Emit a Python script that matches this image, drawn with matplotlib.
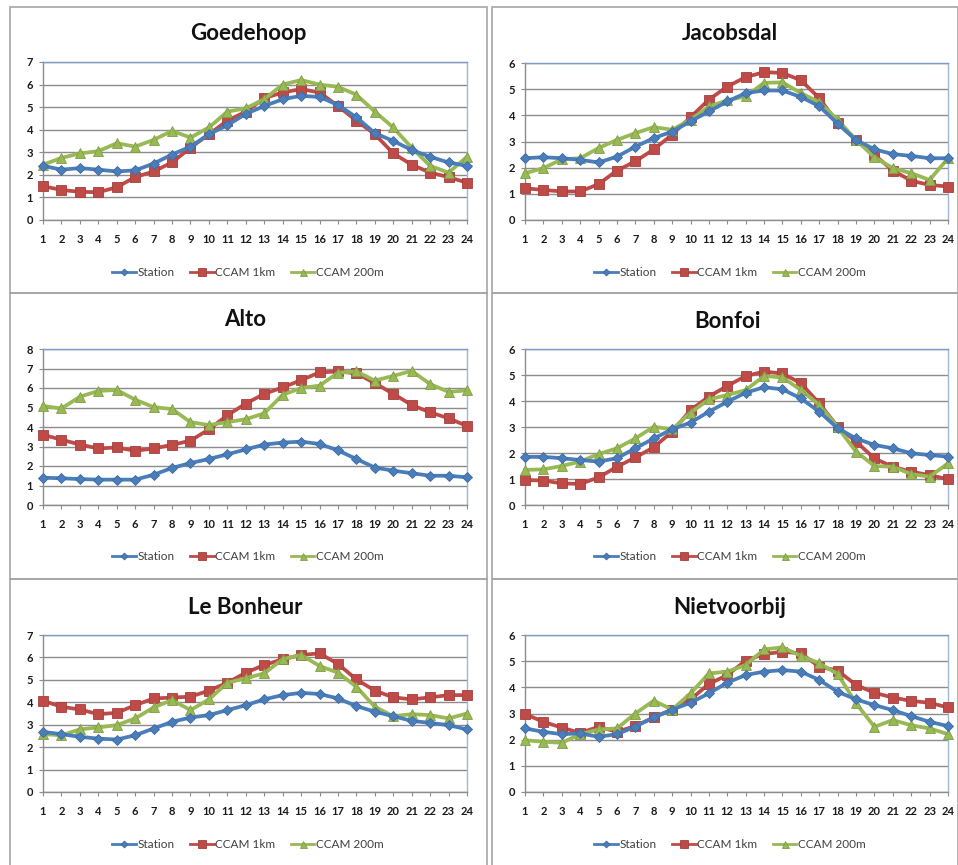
import matplotlib
matplotlib.use("Agg")
import matplotlib.pyplot as plt
from matplotlib.patches import Rectangle

plt.rcParams["font.family"] = ["Lato", "DejaVu Sans"]

hours = list(range(1, 25))
series_names = ["Station", "CCAM 1km", "CCAM 200m"]
station_titles = ["Goedehoop", "Jacobsdal", "Alto", "Bonfoi", "Le Bonheur", "Nietvoorbij"]
y_max = [7, 6, 8, 6, 7, 6]

goedehoop_station = [2.40, 2.23, 2.30, 2.23, 2.15, 2.20, 2.50, 2.90, 3.25, 3.80, 4.20, 4.70,
                     5.05, 5.35, 5.50, 5.45, 5.10, 4.55, 3.85, 3.50, 3.10, 2.80, 2.55, 2.40]
goedehoop_1km = [1.50, 1.33, 1.25, 1.23, 1.45, 1.90, 2.15, 2.55, 3.20, 3.80, 4.40, 4.80,
                 5.40, 5.65, 5.80, 5.65, 5.05, 4.40, 3.80, 2.95, 2.45, 2.10, 1.90, 1.65]
goedehoop_200m = [2.45, 2.75, 2.95, 3.05, 3.40, 3.25, 3.55, 3.95, 3.65, 4.10, 4.80, 4.95,
                  5.35, 6.00, 6.20, 6.00, 5.90, 5.55, 4.80, 4.10, 3.20, 2.40, 2.10, 2.80]

jacobsdal_station = [2.36, 2.40, 2.36, 2.30, 2.20, 2.42, 2.80, 3.13, 3.38, 3.77, 4.15, 4.53,
                     4.85, 4.95, 4.95, 4.70, 4.35, 3.68, 3.06, 2.70, 2.52, 2.45, 2.36, 2.36]
jacobsdal_1km = [1.21, 1.15, 1.09, 1.09, 1.37, 1.89, 2.24, 2.70, 3.26, 3.93, 4.60, 5.10,
                 5.46, 5.65, 5.62, 5.34, 4.66, 3.70, 3.06, 2.49, 1.89, 1.50, 1.34, 1.28]
jacobsdal_200m = [1.79, 1.98, 2.32, 2.36, 2.75, 3.06, 3.32, 3.55, 3.45, 3.83, 4.34, 4.57,
                  4.73, 5.24, 5.26, 4.85, 4.50, 3.83, 3.06, 2.40, 1.98, 1.79, 1.53, 2.36]

alto_station = [1.40, 1.37, 1.33, 1.30, 1.30, 1.30, 1.55, 1.90, 2.15, 2.36, 2.60, 2.85,
                3.10, 3.20, 3.25, 3.13, 2.80, 2.36, 1.92, 1.76, 1.63, 1.50, 1.50, 1.42]
alto_1km = [3.60, 3.35, 3.10, 2.90, 2.95, 2.78, 2.90, 3.08, 3.30, 3.88, 4.60, 5.20,
            5.70, 6.03, 6.40, 6.80, 6.85, 6.75, 6.25, 5.70, 5.13, 4.75, 4.45, 4.05]
alto_200m = [5.08, 4.95, 5.55, 5.85, 5.90, 5.40, 5.02, 4.92, 4.25, 4.10, 4.25, 4.40,
             4.70, 5.65, 6.00, 6.12, 6.78, 6.85, 6.38, 6.62, 6.88, 6.20, 5.80, 5.88]

bonfoi_station = [1.85, 1.85, 1.80, 1.73, 1.67, 1.80, 2.18, 2.56, 2.91, 3.17, 3.59, 3.97,
                  4.32, 4.53, 4.45, 4.10, 3.59, 2.95, 2.56, 2.31, 2.18, 1.99, 1.92, 1.86]
bonfoi_1km = [0.96, 0.94, 0.83, 0.81, 1.06, 1.47, 1.83, 2.22, 2.82, 3.65, 4.17, 4.58,
              4.96, 5.13, 5.06, 4.68, 3.91, 3.01, 2.44, 1.79, 1.47, 1.28, 1.15, 0.99]
bonfoi_200m = [1.35, 1.37, 1.50, 1.67, 1.96, 2.18, 2.56, 3.01, 2.91, 3.55, 4.06, 4.23,
               4.42, 4.96, 4.91, 4.42, 3.85, 2.99, 2.05, 1.50, 1.47, 1.19, 1.09, 1.60]

lebonheur_station = [2.68, 2.58, 2.46, 2.38, 2.34, 2.53, 2.83, 3.13, 3.32, 3.43, 3.65, 3.87,
                     4.13, 4.32, 4.42, 4.37, 4.17, 3.83, 3.58, 3.38, 3.17, 3.08, 2.98, 2.79]
lebonheur_1km = [4.07, 3.80, 3.68, 3.47, 3.53, 3.87, 4.17, 4.21, 4.25, 4.52, 4.87, 5.32,
                 5.66, 5.92, 6.11, 6.18, 5.71, 5.02, 4.52, 4.22, 4.13, 4.22, 4.32, 4.32]
lebonheur_200m = [2.58, 2.53, 2.79, 2.88, 2.98, 3.28, 3.77, 4.10, 3.65, 4.13, 4.87, 5.07,
                  5.29, 5.92, 6.11, 5.62, 5.32, 4.69, 3.80, 3.38, 3.47, 3.43, 3.28, 3.50]

nietvoorbij_station = [2.43, 2.30, 2.21, 2.24, 2.11, 2.21, 2.50, 2.85, 3.15, 3.41, 3.77, 4.18,
                       4.47, 4.60, 4.66, 4.60, 4.28, 3.83, 3.54, 3.32, 3.13, 2.90, 2.68, 2.52]
nietvoorbij_1km = [2.98, 2.68, 2.46, 2.26, 2.49, 2.30, 2.52, 2.85, 3.15, 3.54, 4.13, 4.47,
                   5.02, 5.27, 5.36, 5.30, 4.79, 4.64, 4.09, 3.79, 3.61, 3.48, 3.41, 3.23]
nietvoorbij_200m = [1.98, 1.92, 1.88, 2.21, 2.39, 2.43, 3.00, 3.49, 3.15, 3.77, 4.53, 4.60,
                    4.85, 5.45, 5.53, 5.20, 4.92, 4.51, 3.39, 2.49, 2.75, 2.55, 2.43, 2.21]

panel_series = [
    (goedehoop_station, goedehoop_1km, goedehoop_200m),
    (jacobsdal_station, jacobsdal_1km, jacobsdal_200m),
    (alto_station, alto_1km, alto_200m),
    (bonfoi_station, bonfoi_1km, bonfoi_200m),
    (lebonheur_station, lebonheur_1km, lebonheur_200m),
    (nietvoorbij_station, nietvoorbij_1km, nietvoorbij_200m),
]

W, H = 958, 865
fig = plt.figure(figsize=(W / 100, H / 100), dpi=100)
fig.patch.set_facecolor("white")


def fx(px):
    return px / W


def fy(py):
    return 1 - py / H


# panel frames (pixel boxes: left, top, right, bottom)
frames = [(10, 7, 487, 293), (492, 7, 958, 293),
          (10, 293, 487, 579), (492, 293, 958, 579),
          (10, 579, 487, 866), (492, 579, 958, 866)]
for (l, t, r, b) in frames:
    fig.patches.append(Rectangle((fx(l), fy(b)), fx(r - l), (b - t) / H,
                                 transform=fig.transFigure, fill=False,
                                 edgecolor="#a6a6a6", linewidth=1.2))

# plot areas (pixel boxes)
plot_boxes = [(43, 62, 467, 220), (525, 63, 948, 220),
              (43, 349, 467, 505), (525, 349, 948, 505),
              (43, 635, 467, 792), (525, 635, 948, 792)]
title_pos = [(248, 33), (730, 33), (245, 320), (728, 321), (245, 607), (730, 607)]
legend_y = [273, 273, 557, 557, 845, 845]
legend_x = [248, 730, 248, 730, 248, 730]

colors = ["#4a7ebb", "#be4b48", "#98b954"]
edge_colors = ["#3d6aa3", "#a53f3c", "#7f9e45"]
markers = ["D", "s", "^"]
msizes = [5.0, 7.8, 7.2]
grid_col = "#8c8c8c"

for i, (l, t, r, b) in enumerate(plot_boxes):
    ax = fig.add_axes([fx(l), fy(b), fx(r - l), (b - t) / H])
    for k, vals in enumerate(panel_series[i]):
        ax.plot(hours, vals, color=colors[k], linewidth=2.7, marker=markers[k],
                markersize=msizes[k], markerfacecolor=colors[k],
                markeredgecolor=edge_colors[k], markeredgewidth=0.6,
                label=series_names[k], zorder=3 + k * 0.1 if k != 0 else 3.5)
    ax.set_xlim(1, 24)
    ax.set_ylim(0, y_max[i])
    ax.set_xticks(hours)
    ax.set_xticklabels([str(h) for h in hours])
    ax.set_yticks(range(0, y_max[i] + 1))
    ax.yaxis.grid(True, color=grid_col, linewidth=1.0)
    ax.set_axisbelow(True)
    ax.tick_params(axis="both", labelsize=8, colors=grid_col, labelcolor="#1a1a1a",
                   length=3, width=0.8, pad=4)
    ax.tick_params(axis="x", pad=7)
    for side in ("left", "bottom"):
        ax.spines[side].set_color(grid_col)
        ax.spines[side].set_linewidth(1.0)
    ax.spines["top"].set_color("#7f9cc9")
    ax.spines["top"].set_linewidth(1.0)
    ax.spines["right"].set_color("#9fb6d8")
    ax.spines["right"].set_linewidth(1.0)
    for lab in ax.get_xticklabels() + ax.get_yticklabels():
        lab.set_fontweight("bold")
    for ln in ax.lines:
        ln.set_clip_on(False)

    tx, ty = title_pos[i]
    fig.text(fx(tx), fy(ty), station_titles[i], ha="center", va="center",
             fontsize=16, fontweight="bold", color="#111111")

    leg = ax.legend(loc="center", bbox_to_anchor=(fx(legend_x[i]), fy(legend_y[i])),
                    bbox_transform=fig.transFigure, ncol=3, frameon=False,
                    fontsize=8.5, handlelength=2.0, handletextpad=0.15,
                    columnspacing=1.3, labelcolor="#404040", markerscale=0.7)
    for h in leg.legend_handles:
        h.set_linewidth(2.0)

fig.savefig("out.png", dpi=100, facecolor="white")
